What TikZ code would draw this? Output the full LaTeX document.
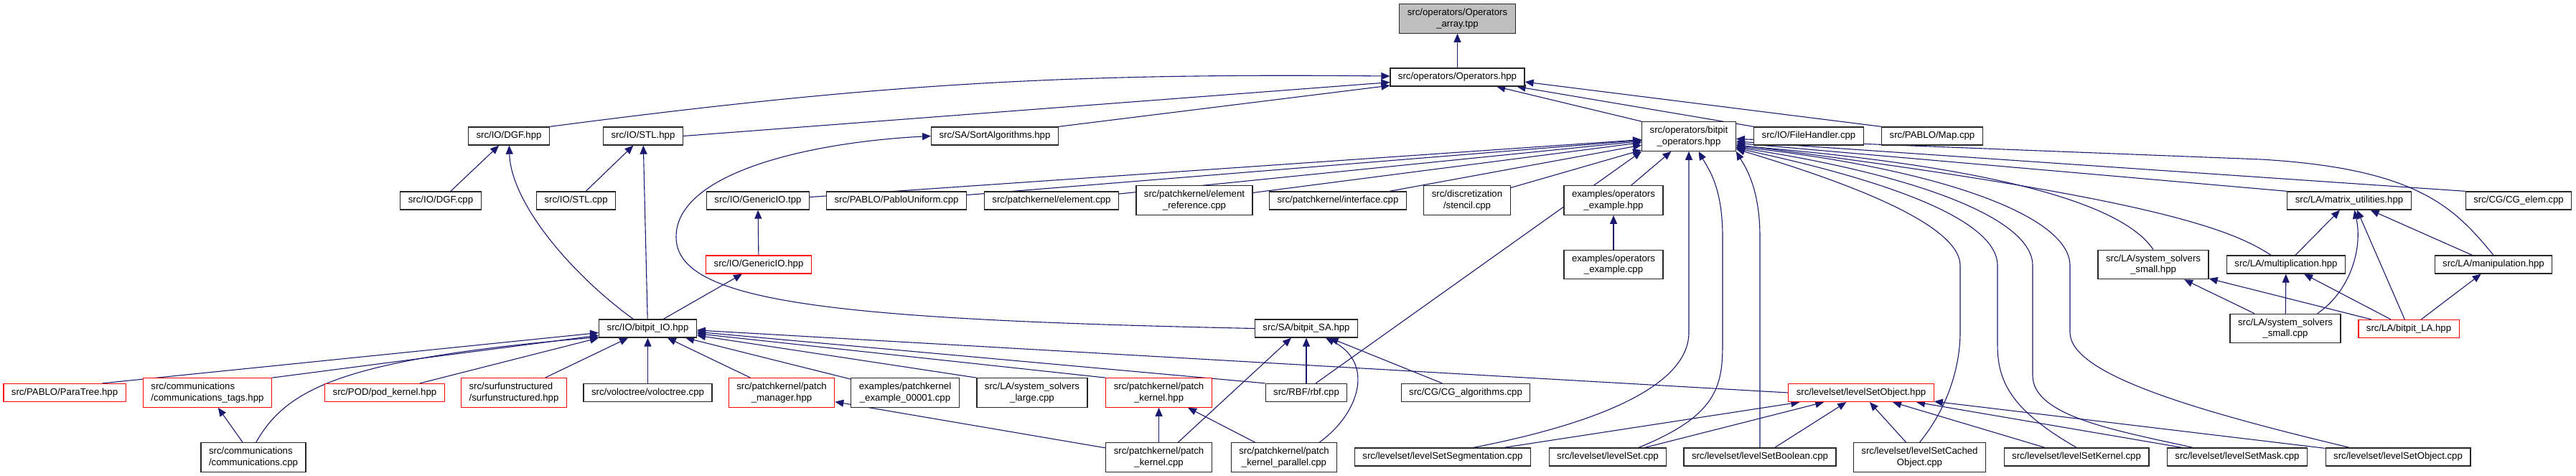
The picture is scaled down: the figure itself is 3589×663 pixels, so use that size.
\documentclass[tikz,border=0pt]{standalone}
\usepackage{fontspec}
\setmainfont{Liberation Sans}
\usetikzlibrary{arrows.meta,backgrounds}
\definecolor{edgeblue}{RGB}{25,25,112}
\definecolor{rootgrey}{RGB}{191,191,191}
\tikzset{
  file/.style={draw=black!85, line width=0.6pt, fill=white, inner xsep=5.5pt, inner ysep=3.2pt,
    minimum height=12.5pt, align=center, font=\fontsize{6.6pt}{7.7pt}\selectfont},
  trunc/.style={file, draw=red},
  root/.style={file, fill=rootgrey},
  edge/.style={draw=edgeblue, line width=0.55pt, -{Triangle[length=6pt,width=5pt]}}
}
\begin{document}
\begin{tikzpicture}[x=0.5pt, y=-0.5pt]
  \useasboundingbox (0,0) rectangle (3589,663);
  % Knoten, Zeile fuer Zeile
  \node[root] (arr) at (2030.5,26) {src/operators/Operators\\\_array.tpp};
  \node[file] (ops) at (2030.5,107.5) {src/operators/Operators.hpp};

  \node[file] (dgfh) at (709,189.5) {src/IO/DGF.hpp};
  \node[file] (stlh) at (896,189.5) {src/IO/STL.hpp};
  \node[file] (sort) at (1386,189.5) {src/SA/SortAlgorithms.hpp};
  \node[file] (bop) at (2353,190) {src/operators/bitpit\\\_operators.hpp};
  \node[file] (fh) at (2520,189.5) {src/IO/FileHandler.cpp};
  \node[file] (map) at (2692,189.5) {src/PABLO/Map.cpp};

  \node[file] (dgfc) at (614,279.5) {src/IO/DGF.cpp};
  \node[file] (stlc) at (802.6,279.5) {src/IO/STL.cpp};
  \node[file] (gtpp) at (1056,279.5) {src/IO/GenericIO.tpp};
  \node[file] (pablou) at (1249,279.5) {src/PABLO/PabloUniform.cpp};
  \node[file] (elem) at (1465,279.5) {src/patchkernel/element.cpp};
  \node[file] (elemref) at (1664,279) {src/patchkernel/element\\\_reference.cpp};
  \node[file] (iface) at (1864,279.5) {src/patchkernel/interface.cpp};
  \node[file] (stencil) at (2044,279) {src/discretization\\/stencil.cpp};
  \node[file] (opexh) at (2248,279) {examples/operators\\\_example.hpp};
  \node[file] (matu) at (3273,279.5) {src/LA/matrix\_utilities.hpp};
  \node[file] (cgelem) at (3509,279.5) {src/CG/CG\_elem.cpp};

  \node[trunc] (gio) at (1057,368.5) {src/IO/GenericIO.hpp};
  \node[file] (opexc) at (2248,368.5) {examples/operators\\\_example.cpp};
  \node[file] (sssh) at (3000,368.5) {src/LA/system\_solvers\\\_small.hpp};
  \node[file] (mult) at (3185,368.5) {src/LA/multiplication.hpp};
  \node[file] (manip) at (3474,368.5) {src/LA/manipulation.hpp};

  \node[file] (bio) at (902.5,457.5) {src/IO/bitpit\_IO.hpp};
  \node[file] (bsa) at (1820,457.5) {src/SA/bitpit\_SA.hpp};
  \node[file] (sssc) at (3184,457.5) {src/LA/system\_solvers\\\_small.cpp};
  \node[trunc] (bla) at (3356,458) {src/LA/bitpit\_LA.hpp};

  \node[trunc] (paratree) at (90,547) {src/PABLO/ParaTree.hpp};
  \node[trunc, align=left] (commtags) at (289,547) {src/communications\\/communications\_tags.hpp};
  \node[trunc] (pod) at (536,547) {src/POD/pod\_kernel.hpp};
  \node[trunc, align=left] (surf) at (716,547) {src/surfunstructured\\/surfunstructured.hpp};
  \node[file] (volo) at (902.5,547) {src/voloctree/voloctree.cpp};
  \node[trunc] (pman) at (1089,547) {src/patchkernel/patch\\\_manager.hpp};
  \node[file] (pkex) at (1261,547) {examples/patchkernel\\\_example\_00001.cpp};
  \node[file] (ssl) at (1438,547) {src/LA/system\_solvers\\\_large.cpp};
  \node[trunc] (pkh) at (1614.6,547) {src/patchkernel/patch\\\_kernel.hpp};
  \node[file] (rbf) at (1820,547) {src/RBF/rbf.cpp};
  \node[file] (cga) at (2042,547) {src/CG/CG\_algorithms.cpp};
  \node[trunc] (lso) at (2593,547) {src/levelset/levelSetObject.hpp};

  \node[file, align=left] (comm) at (353,637) {src/communications\\/communications.cpp};
  \node[file] (pkc) at (1614.6,637) {src/patchkernel/patch\\\_kernel.cpp};
  \node[file] (pkp) at (1789,637) {src/patchkernel/patch\\\_kernel\_parallel.cpp};
  \node[file] (lsseg) at (2010,636.5) {src/levelset/levelSetSegmentation.cpp};
  \node[file] (lsc) at (2240,636.5) {src/levelset/levelSet.cpp};
  \node[file] (lsbool) at (2452,636.5) {src/levelset/levelSetBoolean.cpp};
  \node[file] (lscache) at (2674.5,637) {src/levelset/levelSetCached\\Object.cpp};
  \node[file] (lskern) at (2893,636.5) {src/levelset/levelSetKernel.cpp};
  \node[file] (lsmask) at (3117,636.5) {src/levelset/levelSetMask.cpp};
  \node[file] (lsobjc) at (3341,636.5) {src/levelset/levelSetObject.cpp};

  \begin{scope}[on background layer]
    % operators
    \draw[edge] (ops) -- (arr);
    \draw[edge] (dgfh.north east) to[bend left=4] (ops);
    \draw[edge] (stlh.east) -- (ops);
    \draw[edge] (sort.north east) -- (ops);
    \draw[edge] (bop.north west) -- (ops);
    \draw[edge] (fh.north west) -- (ops.-9);
    \draw[edge] (map.north west) -- (ops.-4);
    % IO
    \draw[edge] (dgfc) -- (dgfh);
    \draw[edge] (bio.147) .. controls (800,385) and (712,285) .. (dgfh);
    \draw[edge] (stlc) -- (stlh);
    \draw[edge] (bio) -- (stlh);
    \draw[edge] (bio.31) -- (gio);
    \draw[edge] (gio) -- (gtpp);
    \draw[edge] (bsa.west) .. controls (1150,445) and (942,420) .. (942,330)
      .. controls (942,240) and (1130,198) .. (sort.west);
    % bitpit_operators
    \foreach \n in {gtpp,pablou,elem,elemref,iface,stencil,opexh} \draw[edge] (\n) -- (bop);
    \draw[edge] (rbf.45) -- (bop.south west);
    \draw[edge] (lsseg.17) .. controls (2250,585) and (2353,530) .. (2353,463) -- (bop.south);
    \draw[edge] (lsc.17) .. controls (2390,580) and (2400,540) .. (2400,480) -- (2400,330)
      .. controls (2400,260) and (2380,235) .. (bop.-57);
    \draw[edge] (lsbool.north) -- (2452,330) .. controls (2452,260) and (2430,230) .. (bop.south east);
    \draw[edge] (lscache.north) .. controls (2720,560) and (2731,500) .. (2731,463) -- (2731,370)
      .. controls (2731,310) and (2560,250) .. (bop.-15);
    \draw[edge] (lskern.north) .. controls (2800,570) and (2783,530) .. (2783,480) -- (2783,370)
      .. controls (2783,300) and (2600,245) .. (bop.-14);
    \draw[edge] (lsmask.168) .. controls (2950,600) and (2832,580) .. (2832,523) -- (2832,370)
      .. controls (2832,300) and (2650,240) .. (bop.-13);
    \draw[edge] (lsobjc.169) .. controls (3050,570) and (2884,520) .. (2884,463) -- (2884,370)
      .. controls (2884,300) and (2700,235) .. (bop.-12);
    \draw[edge] (sssh.north) .. controls (2975,310) and (2880,240) .. (bop.-11);
    \draw[edge] (mult.148) .. controls (3110,320) and (3000,275) .. (bop.-10);
    \draw[edge] (matu.north west) -- (bop.-8);
    \draw[edge] (cgelem.north west) -- (bop.-6);
    \draw[edge] (manip.north) .. controls (3420,290) and (3370,235) .. (3150,222) -- (bop.-3);
    \draw[edge] (opexc) -- (opexh);
    % bitpit_IO
    \draw[edge] (paratree.14) -- (bio.185);
    \draw[edge] (commtags.north east) -- (bio.188);
    \draw[edge] (comm.80) .. controls (400,540) and (480,500) .. (bio.190);
    \draw[edge] (pod.15) -- (bio.south west);
    \foreach \n in {surf,volo,pman,pkex} \draw[edge] (\n) -- (bio);
    \draw[edge] (ssl.north west) -- (bio.-8);
    \draw[edge] (pkh.north west) -- (bio.-6);
    \draw[edge] (rbf.north west) -- (bio.-4);
    \draw[edge] (lso.west) -- (bio.-2);
    \draw[edge] (comm) -- (commtags);
    % patchkernel, SA
    \draw[edge] (pkc) -- (pkh);
    \draw[edge] (pkp) -- (pkh);
    \draw[edge] (pkc.170) -- (pman);
    \draw[edge] (pkc.38) -- (bsa.-148);
    \draw[edge] (rbf) -- (bsa);
    \draw[edge] (pkp.23) .. controls (1895,575) and (1915,505) .. (bsa.-26);
    \draw[edge] (cga) -- (bsa);
    % levelset
    \foreach \n in {lsseg,lsc,lsbool,lscache,lskern,lsmask,lsobjc} \draw[edge] (\n) -- (lso);
    % LA
    \draw[edge] (sssc) -- (sssh);
    \draw[edge] (bla) -- (sssh);
    \draw[edge] (sssc) -- (mult);
    \draw[edge] (bla) -- (mult);
    \draw[edge] (bla) -- (manip);
    \draw[edge] (mult) -- (matu);
    \draw[edge] (sssc.25) .. controls (3275,405) and (3292,345) .. (matu.-61);
    \draw[edge] (bla) -- (matu.-50);
    \draw[edge] (manip) -- (matu);
  \end{scope}
\end{tikzpicture}
\end{document}
